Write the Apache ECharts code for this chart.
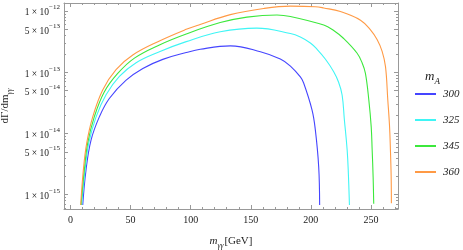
<!DOCTYPE html>
<html><head><meta charset="utf-8">
<script src="https://cdn.jsdelivr.net/npm/echarts@6/dist/echarts.min.js"></script>
<style>html,body{margin:0;padding:0;background:#fff}#c{width:463px;height:250px}</style>
</head><body><div id="c"></div>
<script>
// legend categories (m_A values)
const seriesNames = ['300', '325', '345', '360'];

// m_A = 300
const x300 = [10.2, 12.9, 17.1, 24, 32.3, 46.3, 60.2, 76.8, 96.3, 108, 133, 158, 174.6, 183, 191.25, 194, 201, 203.7, 206.5, 207.3];
const y300 = [6.76e-16, 2.51e-15, 7.76e-15, 1.86e-14, 3.72e-14, 7.41e-14, 1.15e-13, 1.62e-13, 2.09e-13, 2.37e-13, 2.69e-13, 2.16e-13, 1.64e-13, 1.26e-13, 8.36e-14, 6.67e-14, 2.41e-14, 1.15e-14, 2.88e-15, 6.76e-16];

// m_A = 325
const x325 = [9.3, 12.1, 15.2, 21.3, 29.6, 40.7, 54.6, 74, 96.3, 124.6, 155, 183, 191.25, 199.6, 205, 212, 219, 223, 226, 227.9, 230.2, 231.25, 232.1];
const y325 = [6.76e-16, 2.51e-15, 6.92e-15, 1.86e-14, 4.27e-14, 8.51e-14, 1.43e-13, 2.16e-13, 3.16e-13, 4.57e-13, 5.25e-13, 4.29e-13, 3.76e-13, 3.00e-13, 2.39e-13, 1.64e-13, 1.02e-13, 6.92e-14, 4.24e-14, 1.66e-14, 5.36e-15, 2.09e-15, 6.76e-16];

// m_A = 345
const x345 = [8.75, 11.5, 14.3, 19.8, 28.2, 39.3, 53.2, 74, 96.3, 124.6, 146.8, 171.8, 183, 210.7, 219, 227.3, 238.5, 242.7, 245.4, 248.2, 250.2, 251, 251.8, 252.3];
const y345 = [6.76e-16, 2.51e-15, 6.92e-15, 1.86e-14, 4.79e-14, 9.55e-14, 1.70e-13, 2.79e-13, 4.21e-13, 6.46e-13, 7.94e-13, 8.61e-13, 8.13e-13, 5.89e-13, 4.79e-13, 3.55e-13, 2.04e-13, 1.41e-13, 9.55e-14, 3.55e-14, 1.29e-14, 5.37e-15, 1.95e-15, 7.08e-16];

// m_A = 360
const x360 = [8.5, 10.7, 13.5, 18.5, 26.8, 37.9, 51.8, 74, 96.3, 107.9, 133, 160.7, 183, 203.7, 210.7, 224.6, 241.3, 249.6, 255.2, 259.3, 262.1, 264, 265.4, 266.2, 266.8, 267];
const y360 = [6.76e-16, 2.51e-15, 6.92e-15, 1.86e-14, 5.13e-14, 1.10e-13, 1.91e-13, 3.24e-13, 5.01e-13, 6.03e-13, 8.71e-13, 1.10e-12, 1.20e-12, 1.175e-12, 1.12e-12, 9.77e-13, 7.08e-13, 4.90e-13, 3.39e-13, 2.19e-13, 1.23e-13, 3.55e-14, 1.38e-14, 5.37e-15, 2.00e-15, 7.24e-16];

// tick labels
const xTickLabels = [0, 50, 100, 150, 200, 250];
const yTickLabels = [1e-15, 5e-15, 1e-14, 5e-14, 1e-13, 5e-13, 1e-12];

const xs = [x300, x325, x345, x360];
const ys = [y300, y325, y345, y360];
const colors = ['#4545ff', '#3ff5f5', '#3ce83c', '#ff9a45'];

const XMIN = -5.4, XMAX = 272.5, YMIN = 5.82e-16, YMAX = 1.35e-12;
const xMinor = [];
for (let v = 0; v <= 270; v += 10) if (v % 50 !== 0) xMinor.push(v);
const yMinor = [];
for (let e = -16; e <= -12; e++) for (let m = 2; m <= 9; m++) {
  if (m === 5) continue;
  const v = m * Math.pow(10, e);
  if (v >= YMIN && v <= YMAX) yMinor.push(v);
}
const axisGray = '#999';
const serif = '"Liberation Serif", "DejaVu Serif", serif';
const ink = '#222';

function yFmt(v) {
  const e = Math.floor(Math.log10(v) + 1e-6);
  const m = Math.round(v / Math.pow(10, e));
  return '{a|' + m + ' \u00d7 10}{b|\u2212' + (-e) + '}';
}

function xAx(pos, major, showLabel) {
  return {
    type: 'value', position: pos, min: XMIN, max: XMAX,
    axisLine: { show: major, onZero: false, lineStyle: { color: axisGray, width: 1 } },
    axisTick: { show: true, inside: true, length: major ? 4 : 2, customValues: major ? xTickLabels : xMinor, lineStyle: { color: axisGray } },
    axisLabel: { show: showLabel, customValues: xTickLabels, color: ink, fontFamily: serif, fontSize: 10, margin: 6 },
    splitLine: { show: false },
    name: showLabel ? '{i|m}{s|\u03b3\u03b3}{n|[GeV]}' : '',
    nameLocation: 'middle', nameGap: 27,
    nameTextStyle: { rich: {
      i: { fontFamily: serif, fontStyle: 'italic', fontSize: 11, color: ink, lineHeight: 14, verticalAlign: 'top' },
      s: { fontFamily: serif, fontStyle: 'italic', fontSize: 7.5, color: ink, padding: [6, 1, 0, 0], verticalAlign: 'top' },
      n: { fontFamily: serif, fontSize: 11, color: ink, lineHeight: 14, verticalAlign: 'top' }
    } }
  };
}
function yAx(pos, major, showLabel) {
  return {
    type: 'log', logBase: 10, position: pos, min: YMIN, max: YMAX,
    axisLine: { show: major, onZero: false, lineStyle: { color: axisGray, width: 1 } },
    axisTick: { show: true, inside: true, length: major ? 4 : 2, customValues: major ? yTickLabels : yMinor, lineStyle: { color: axisGray } },
    axisLabel: { show: showLabel, customValues: yTickLabels, formatter: yFmt, margin: 4,
      rich: {
        a: { fontFamily: serif, fontSize: 9.5, color: ink, lineHeight: 14, verticalAlign: 'bottom', padding: [4, 0, 0, 0] },
        b: { fontFamily: serif, fontSize: 7, color: ink, lineHeight: 9, verticalAlign: 'top' }
      } },
    splitLine: { show: false },
    name: showLabel ? '{n|d\u0393/dm}{s|\u03b3\u03b3}' : '',
    nameLocation: 'middle', nameGap: 49,
    nameTextStyle: { rich: {
      n: { fontFamily: serif, fontSize: 11, color: ink, lineHeight: 14, verticalAlign: 'top' },
      s: { fontFamily: serif, fontStyle: 'italic', fontSize: 7.5, color: ink, padding: [6, 0, 0, 0], verticalAlign: 'top' }
    } }
  };
}

const chart = echarts.init(document.getElementById('c'), null, { renderer: 'canvas' });
chart.setOption({
  animation: false,
  backgroundColor: '#fff',
  grid: { left: 64, right: 65, top: 3, bottom: 41, containLabel: false, outerBoundsMode: 'none' },
  title: {
    text: '{m|m}{s|A}', left: 425, top: 70, padding: 0,
    textStyle: { fontWeight: 'normal', rich: {
      m: { fontFamily: serif, fontStyle: 'italic', fontWeight: 'normal', fontSize: 13, color: ink, lineHeight: 16, verticalAlign: 'top' },
      s: { fontFamily: serif, fontStyle: 'italic', fontWeight: 'normal', fontSize: 9, color: ink, padding: [7, 0, 0, 0], verticalAlign: 'top' }
    } }
  },
  legend: {
    orient: 'vertical', left: 415, top: 87, padding: 0, itemWidth: 21, itemHeight: 2, itemGap: 12,
    icon: 'rect', data: seriesNames,
    textStyle: { fontFamily: serif, fontStyle: 'italic', fontSize: 11, color: ink, lineHeight: 14, padding: [0, 0, 0, 2] }
  },
  xAxis: [xAx('bottom', true, true), xAx('bottom', false, false), xAx('top', true, false), xAx('top', false, false)],
  yAxis: [yAx('left', true, true), yAx('left', false, false), yAx('right', true, false), yAx('right', false, false)],
  series: seriesNames.map((n, k) => ({
    name: n, type: 'line', xAxisIndex: 0, yAxisIndex: 0,
    data: xs[k].map((x, i) => [x, ys[k][i]]),
    showSymbol: false, symbol: 'none', smooth: 0.4,
    color: colors[k], lineStyle: { width: 1.1, color: colors[k] }
  }))
});
</script></body></html>
